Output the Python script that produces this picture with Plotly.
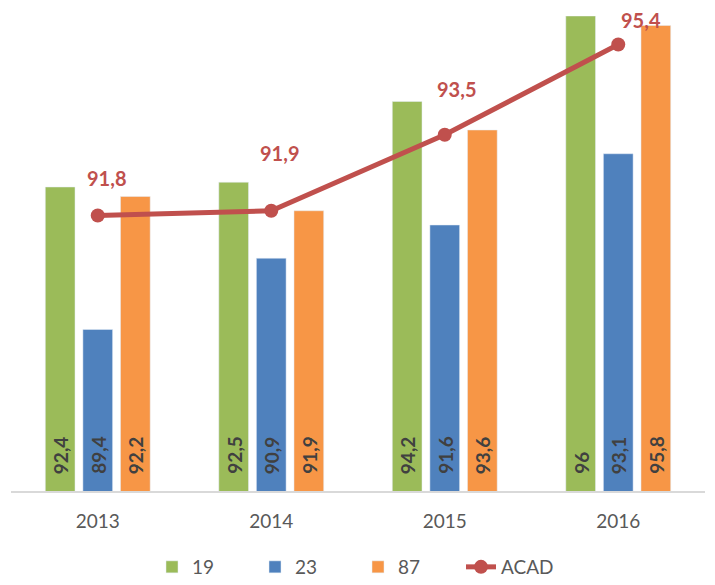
import plotly.graph_objects as go

years = ["2013", "2014", "2015", "2016"]
s19 = [92.4, 92.5, 94.2, 96.0]
s23 = [89.4, 90.9, 91.6, 93.1]
s87 = [92.2, 91.9, 93.6, 95.8]
acad = [91.8, 91.9, 93.5, 95.4]

def fmt(v):
    s = f"{v:.1f}".replace(".", ",")
    return s[:-2] if s.endswith(",0") else s

FONT = "Lato"
Y_MIN, Y_MAX = 86, 96
BARGAP = 0.35
series = [("19", s19, "#9BBB59"), ("23", s23, "#4F81BD"), ("87", s87, "#F79646")]

fig = go.Figure()
for name, vals, col in series:
    fig.add_trace(go.Bar(x=years, y=vals, name=name, marker_color=col))

fig.add_trace(go.Scatter(
    x=years, y=acad, name="ACAD", mode="lines+markers",
    line=dict(color="#C0504D", width=5),
    marker=dict(color="#C0504D", size=14),
))

# bar value labels, rotated, at the base of each bar
slot = (1 - BARGAP) / len(series)
for k, (name, vals, col) in enumerate(series):
    off = (k - (len(series) - 1) / 2) * slot
    for i, v in enumerate(vals):
        fig.add_annotation(xref="x", yref="y", x=i + off, y=Y_MIN, text="<b>" + fmt(v) + "</b>",
                           showarrow=False, textangle=-90, yanchor="bottom", xanchor="center",
                           yshift=15, font=dict(family=FONT, size=19, color="#404040"))

# line value labels
xshifts = [9, 8, 12, 23]
yshifts = [38, 58, 46, 25]
for i, (v, dx, dy) in enumerate(zip(acad, xshifts, yshifts)):
    fig.add_annotation(xref="x", yref="y", x=i, y=v, text="<b>" + fmt(v) + "</b>",
                       showarrow=False, xshift=dx, yshift=dy,
                       font=dict(family=FONT, size=20, color="#C0504D"))

fig.update_layout(
    width=699, height=569,
    margin=dict(l=3, r=2, t=8, b=86, autoexpand=False),
    plot_bgcolor="white", paper_bgcolor="white",
    barmode="group", bargap=BARGAP, bargroupgap=0.21,
    showlegend=True,
    legend=dict(orientation="h", x=0.5, xanchor="center", y=-0.16, yanchor="middle",
                font=dict(family=FONT, size=19, color="#595959"),
                traceorder="normal", entrywidth=58, entrywidthmode="pixels"),
    xaxis=dict(type="category", range=[-0.5, 3.5], showline=True, linecolor="#D9D9D9",
               linewidth=1.5, ticks="", ticklabelstandoff=12,
               tickfont=dict(family=FONT, size=19, color="#595959"),
               showgrid=False),
    yaxis=dict(range=[Y_MIN, Y_MAX], visible=False, showgrid=False),
)

fig.write_html("out.html")
